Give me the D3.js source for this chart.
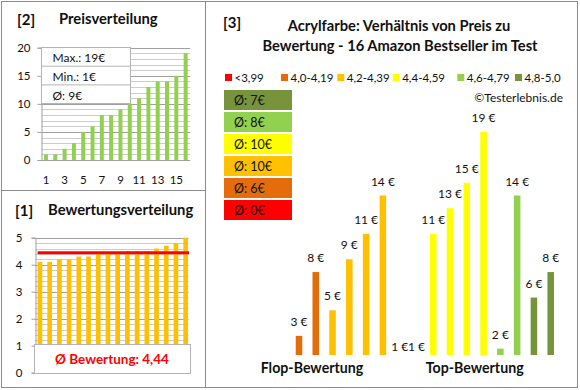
<!DOCTYPE html>
<html><head><meta charset="utf-8">
<script src="https://cdn.jsdelivr.net/npm/d3@7"></script>
<style>
html,body{margin:0;padding:0;background:#fff;}
svg{display:block;font-family:Lato,"Open Sans",sans-serif;}
</style></head>
<body>
<svg id="c" width="580" height="390"></svg>
<script>
// ---------- data ----------
const priceRank = d3.range(1, 17);
const prices = [1,1,2,3,5,6,8,8,9,10,11,13,14,14,15,19];
const priceTicks = [1,3,5,7,9,11,13,15];
const priceStats = ["Max.: 19€", "Min.: 1€", "Ø: 9€"];

const ratingRank = d3.range(1, 17);
const ratings = [4.1,4.1,4.2,4.2,4.3,4.3,4.4,4.4,4.4,4.5,4.5,4.5,4.6,4.7,4.8,5.0];
const ratingAvg = 4.44;
const ratingAvgLabel = "Ø Bewertung: 4,44";

const products = d3.range(1, 17);
const productPrices = [3,8,5,9,11,14,1,1,11,13,15,19,2,14,6,8];
const productClass = [1,1,2,2,2,2,3,3,3,3,3,3,4,4,5,5];
const classLabels = ["<3,99","4,0-4,19","4,2-4,39","4,4-4,59","4,6-4,79","4,8-5,0"];
const classColors = ["#FF0000","#E46C0A","#FFC000","#FFFF00","#92D050","#77933C"];
const classAvgLabels = ["Ø: 0€","Ø: 6€","Ø: 10€","Ø: 10€","Ø: 8€","Ø: 7€"];
const groupLabels = ["Flop-Bewertung","Top-Bewertung"];

const svg = d3.select("#c");
const frame = "#8c8c8c";
const gMajor = "#a0a0a0", gMinor = "#cdcdcd";
const txt = "#111";

// ---------- frame ----------
svg.append("rect").attr("x",1.5).attr("y",1.5).attr("width",576).attr("height",386)
  .attr("fill","none").attr("stroke",frame);
svg.append("line").attr("x1",205.5).attr("x2",205.5).attr("y1",1.5).attr("y2",387.5).attr("stroke",frame);
svg.append("line").attr("x1",1.5).attr("x2",205.5).attr("y1",190.5).attr("y2",190.5).attr("stroke",frame);

// ---------- panel [2] Preisverteilung ----------
{
  const g = svg.append("g");
  g.append("text").attr("x",17).attr("y",25).attr("font-size",15).attr("font-weight","bold").attr("fill",txt).text("[2]");
  g.append("text").attr("x",59).attr("y",24).attr("font-size",14.8).attr("font-weight","bold").attr("fill",txt).text("Preisverteilung");
  const x = d3.scaleBand().domain(priceRank).range([41.3,190.3]).paddingInner(0.57).paddingOuter(0.285);
  const y = d3.scaleLinear().domain([0,20]).range([160,47.7]);
  const minor = d3.range(0,21,1);
  g.selectAll(".gl").data(minor).join("line")
    .attr("x1",41.3).attr("x2",190.3).attr("y1",d=>Math.round(y(d))+0.5).attr("y2",d=>Math.round(y(d))+0.5)
    .attr("stroke",d=>d%5===0?gMajor:gMinor);
  const ya = d3.axisLeft(y).tickValues([0,5,10,15,20]).tickSize(4).tickPadding(7);
  const ay = g.append("g").attr("transform","translate(41.5,0)").call(ya);
  ay.select(".domain").attr("stroke",gMajor);
  ay.selectAll(".tick line").attr("stroke",gMajor);
  ay.selectAll("text").attr("font-size",11.5).attr("fill",txt).attr("font-family","Lato,sans-serif");
  g.selectAll(".b").data(prices).join("rect")
    .attr("x",(d,i)=>x(priceRank[i])).attr("width",x.bandwidth())
    .attr("y",d=>y(d)).attr("height",d=>y(0)-y(d)).attr("fill","#92D050");
  const xa = d3.axisBottom(x).tickValues(priceTicks).tickSize(0).tickPadding(16);
  const ax = g.append("g").attr("transform","translate(0,160)").call(xa);
  ax.select(".domain").remove();
  ax.selectAll("text").attr("font-size",11.5).attr("fill",txt).attr("font-family","Lato,sans-serif");
  const bx = g.append("g");
  bx.append("rect").attr("x",41.5).attr("y",47.5).attr("width",89).attr("height",56).attr("fill","#fff").attr("stroke","#b4b4b4");
  priceStats.forEach((s,i)=>{
    if(i>0) bx.append("line").attr("x1",41.5).attr("x2",130.5).attr("y1",47.5+i*18.7).attr("y2",47.5+i*18.7).attr("stroke","#b4b4b4");
    bx.append("text").attr("x",52.5).attr("y",62+i*18.8).attr("font-size",12).attr("fill",txt).text(s);
  });
}

// ---------- panel [1] Bewertungsverteilung ----------
{
  const g = svg.append("g");
  g.append("text").attr("x",15).attr("y",216).attr("font-size",15).attr("font-weight","bold").attr("fill",txt).text("[1]");
  g.append("text").attr("x",48).attr("y",215).attr("font-size",14.8).attr("font-weight","bold").attr("fill",txt).text("Bewertungsverteilung");
  const x = d3.scaleBand().domain(ratingRank).range([35.1,190.5]).paddingInner(0.52).paddingOuter(0.26);
  const y = d3.scaleLinear().domain([0,5]).range([372.7,237.7]);
  const grid = d3.range(0,26).map(d=>d/5);
  g.selectAll(".gl").data(grid).join("line")
    .attr("x1",35.1).attr("x2",188.5).attr("y1",d=>Math.round(y(d))+0.5).attr("y2",d=>Math.round(y(d))+0.5)
    .attr("stroke",(d,i)=>i%5===0?gMajor:gMinor);
  const ya = d3.axisLeft(y).tickValues([0,1,2,3,4,5]).tickFormat(d3.format("d")).tickSize(4).tickPadding(9);
  const ay = g.append("g").attr("transform","translate(35.5,0)").call(ya);
  ay.select(".domain").attr("stroke",gMajor);
  ay.selectAll(".tick line").attr("stroke",gMajor);
  ay.selectAll("text").attr("font-size",11.5).attr("fill",txt).attr("font-family","Lato,sans-serif");
  g.selectAll(".b").data(ratings).join("rect")
    .attr("x",(d,i)=>x(ratingRank[i])).attr("width",x.bandwidth())
    .attr("y",d=>y(d)).attr("height",d=>y(0)-y(d)).attr("fill","#FFC000");
  g.append("line").attr("x1",x(ratingRank[0])).attr("x2",x(ratingRank[15])+x.bandwidth()+1)
    .attr("y1",y(ratingAvg)).attr("y2",y(ratingAvg)).attr("stroke","#FF0000").attr("stroke-width",3);
  g.append("rect").attr("x",34.5).attr("y",344.5).attr("width",156).attr("height",29).attr("fill","#fff").attr("stroke","#b4b4b4");
  g.append("text").attr("x",112).attr("y",364).attr("text-anchor","middle").attr("font-size",13.5).attr("font-weight","bold")
    .attr("fill","#FF0000").text(ratingAvgLabel);
}

// ---------- panel [3] ----------
{
  const g = svg.append("g");
  g.append("text").attr("x",223).attr("y",28).attr("font-size",15).attr("font-weight","bold").attr("fill",txt).text("[3]");
  g.append("text").attr("x",399).attr("y",31).attr("text-anchor","middle").attr("font-size",14.7).attr("font-weight","bold").attr("fill",txt)
    .text("Acrylfarbe: Verhältnis von Preis zu");
  g.append("text").attr("x",400).attr("y",51).attr("text-anchor","middle").attr("font-size",14.7).attr("font-weight","bold").attr("fill",txt)
    .text("Bewertung - 16 Amazon Bestseller im Test");
  const legX = [225,281,337.3,392.7,457.3,515];
  classLabels.forEach((l,i)=>{
    g.append("rect").attr("x",legX[i]).attr("y",74).attr("width",7).attr("height",7).attr("fill",classColors[i]);
    g.append("text").attr("x",legX[i]+9.5).attr("y",81.5).attr("font-size",11.5).attr("fill",txt).text(l);
  });
  g.append("text").attr("x",563).attr("y",102).attr("text-anchor","end").attr("font-size",12).attr("fill",txt).text("©Testerlebnis.de");
  const order = d3.range(5,-1,-1);
  order.forEach((ci,k)=>{
    g.append("rect").attr("x",224).attr("y",90+k*22).attr("width",68).attr("height",20).attr("fill",classColors[ci]);
    g.append("text").attr("x",234).attr("y",104.5+k*22).attr("font-size",12.5).attr("fill",txt).text(classAvgLabels[ci]);
  });
  const x = d3.scaleBand().domain(products).range([290.6,559.1]).paddingInner(0.61).paddingOuter(0.305);
  const y = d3.scaleLinear().domain([1.5,19]).range([355,131.7]);
  g.selectAll(".b").data(productPrices).join("rect")
    .attr("x",(d,i)=>x(products[i])).attr("width",x.bandwidth())
    .attr("y",d=>Math.min(y(d),y(1.5))).attr("height",d=>Math.max(0,y(1.5)-y(d)))
    .attr("fill",(d,i)=>classColors[productClass[i]]);
  g.selectAll(".l").data(productPrices).join("text")
    .attr("x",(d,i)=>x(products[i])+x.bandwidth()/2).attr("y",d=>y(d)-10)
    .attr("text-anchor","middle").attr("font-size",12).attr("fill",txt).text(d=>d+" €");
  g.append("text").attr("x",312).attr("y",373).attr("text-anchor","middle").attr("font-size",14.2).attr("font-weight","bold").attr("fill",txt).text(groupLabels[0]);
  g.append("text").attr("x",474.7).attr("y",373).attr("text-anchor","middle").attr("font-size",14.2).attr("font-weight","bold").attr("fill",txt).text(groupLabels[1]);
}
</script>
</body></html>
